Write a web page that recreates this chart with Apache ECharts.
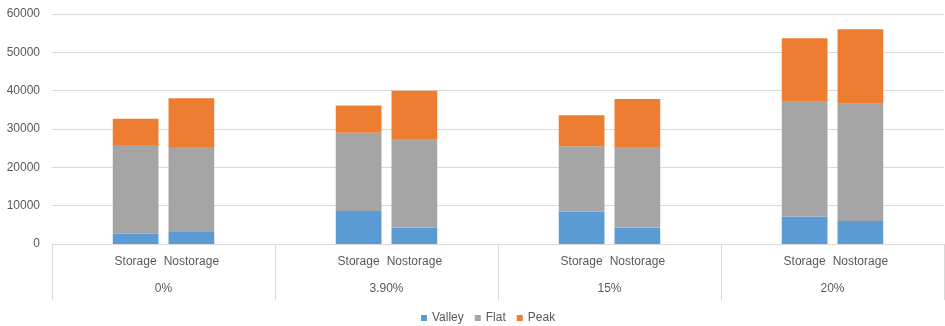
<!DOCTYPE html>
<html>
<head>
<meta charset="utf-8">
<script src="https://cdn.jsdelivr.net/npm/echarts@6/dist/echarts.min.js"></script>
<style>
  html, body { margin: 0; padding: 0; background: #fff; }
  #chart { width: 945px; height: 326px; }
</style>
</head>
<body>
<div id="chart"></div>
<script>
// groups (top level) and sub-categories
const groups = ['0%', '3.90%', '15%', '20%'];
const subs = ['Storage', 'Nostorage'];

// values per bar, order: 0% S, 0% N, 3.90% S, 3.90% N, 15% S, 15% N, 20% S, 20% N
const valley = [2700, 3100, 8600, 4300, 8400, 4300, 7200, 6000];
const flat = [23100, 22200, 20400, 23100, 17100, 21000, 29900, 30600];
const peak = [6900, 12700, 7100, 12600, 8100, 12500, 16600, 19400];

// every group has an empty slot on both sides of its two bars
let cats = [];
groups.forEach(() => {
  cats.push('', subs[0], subs[1], '');
});

const pad = (arr) => {
  let out = [];
  for (let i = 0; i < groups.length; i++) {
    out.push('-', arr[i * 2], arr[i * 2 + 1], '-');
  }
  return out;
};

const font = 'Liberation Sans';
const textGray = '#595959';
const lineGray = '#d9d9d9';

let chart = echarts.init(document.getElementById('chart'));

let option = {
  animation: false,
  textStyle: { fontFamily: font },
  color: ['#5B9BD5', '#A5A5A5', '#ED7D31'],
  grid: { left: 52, right: 1, top: 14, bottom: 82 },
  legend: {
    bottom: -3,
    left: 416,
    icon: 'rect',
    itemWidth: 6,
    itemHeight: 6,
    itemGap: 11,
    textStyle: { color: textGray, fontSize: 12, fontFamily: font },
    data: ['Valley', 'Flat', 'Peak']
  },
  xAxis: [{
    type: 'category',
    data: cats,
    axisLine: { lineStyle: { color: lineGray } },
    axisTick: { show: false },
    axisLabel: { interval: 0, margin: 12, color: textGray, fontSize: 12 }
  }, {
    type: 'category',
    data: groups,
    position: 'bottom',
    axisLine: { show: false },
    axisTick: { show: true, length: 56, lineStyle: { color: lineGray } },
    axisLabel: { margin: 39, color: textGray, fontSize: 12 }
  }],
  yAxis: {
    type: 'value',
    min: 0,
    max: 60000,
    interval: 10000,
    axisLine: { show: false },
    axisTick: { show: false },
    axisLabel: {
      margin: 12,
      color: textGray,
      fontSize: 12,
      formatter: (v) => String(v)
    },
    splitLine: { lineStyle: { color: lineGray } }
  },
  series: [{
    name: 'Valley',
    type: 'bar',
    stack: 'total',
    barCategoryGap: '18%',
    data: pad(valley)
  }, {
    name: 'Flat',
    type: 'bar',
    stack: 'total',
    barCategoryGap: '18%',
    data: pad(flat)
  }, {
    name: 'Peak',
    type: 'bar',
    stack: 'total',
    barCategoryGap: '18%',
    data: pad(peak)
  }]
};

chart.setOption(option);
</script>
</body>
</html>
